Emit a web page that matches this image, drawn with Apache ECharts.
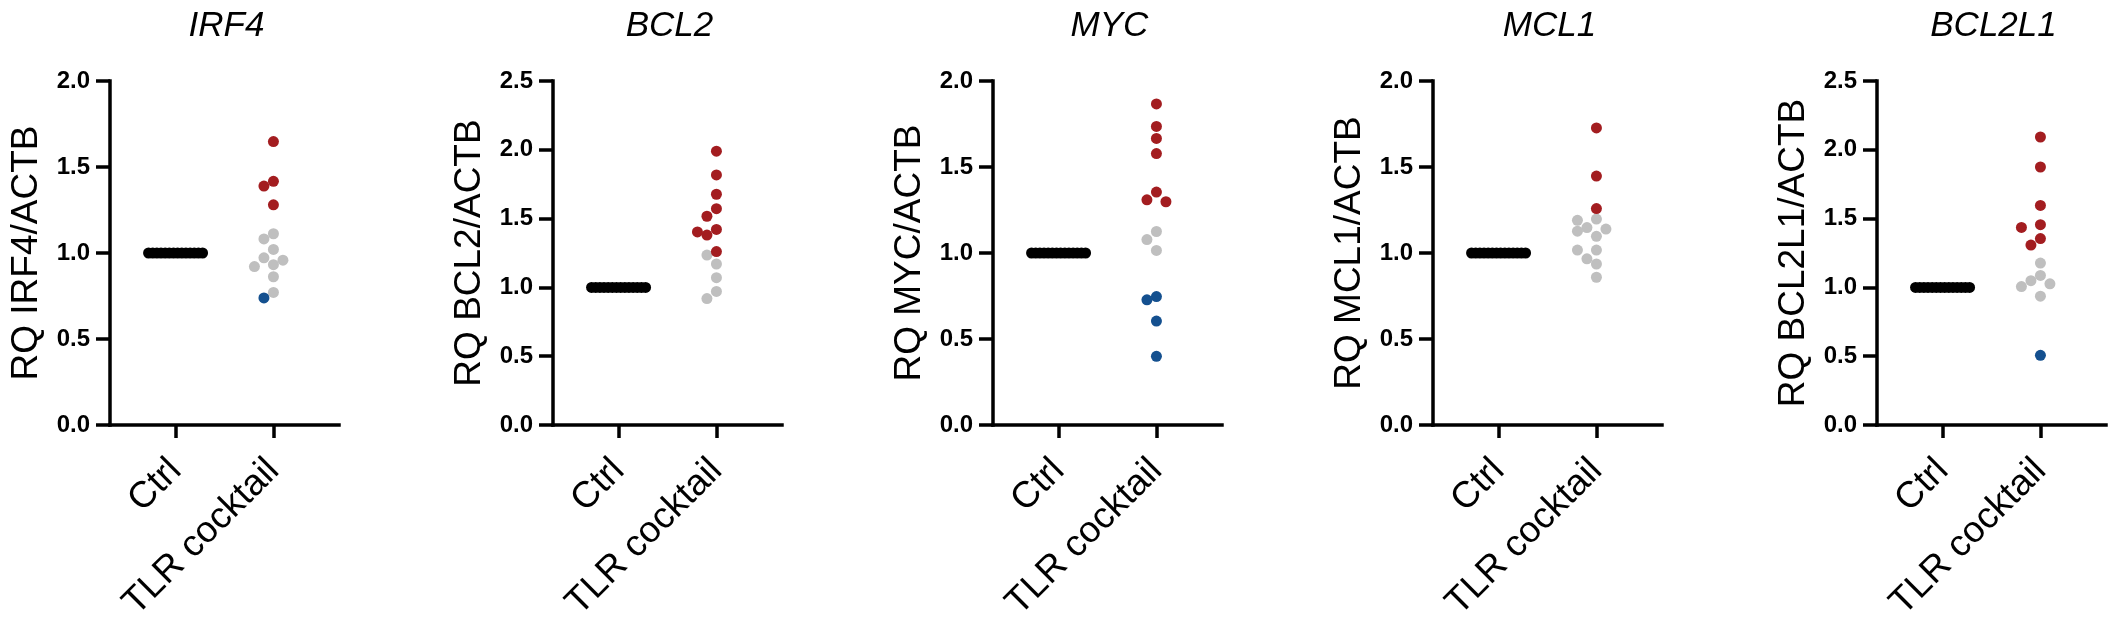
<!DOCTYPE html>
<html>
<head>
<meta charset="utf-8">
<title>RQ expression: Ctrl vs TLR cocktail</title>
<script src="https://cdn.jsdelivr.net/npm/echarts@6.0.0/dist/echarts.min.js"></script>
<style>
  html, body { margin: 0; padding: 0; background: #fff; }
  #chart { width: 2116px; height: 629px; }
</style>
</head>
<body>
<div id="chart"></div>
<script>
// -- Values (RQ relative to ACTB) --
const genes = ['IRF4', 'BCL2', 'MYC', 'MCL1', 'BCL2L1'];
const groups = ['Ctrl', 'TLR cocktail'];
const yMax = [2.0, 2.5, 2.0, 2.0, 2.5];

// Ctrl samples are the calibrator, all at 1.0
const ctrlRQ = [1, 1, 1, 1, 1, 1, 1, 1, 1, 1, 1, 1, 1, 1];

// TLR cocktail samples, split by colour: up (red), unchanged (grey), down (blue)
const irf4Up = [1.648, 1.417, 1.389, 1.28];
const irf4Same = [1.112, 1.082, 1.021, 0.972, 0.958, 0.932, 0.921, 0.862, 0.771];
const irf4Down = [0.739];

const bcl2Up = [1.99, 1.817, 1.677, 1.572, 1.517, 1.421, 1.403, 1.38, 1.26];
const bcl2Same = [1.235, 1.17, 1.071, 0.971, 0.919];
const bcl2Down = [];

const mycUp = [1.867, 1.736, 1.666, 1.578, 1.354, 1.309, 1.298];
const mycSame = [1.125, 1.078, 1.015];
const mycDown = [0.747, 0.728, 0.604, 0.399];

const mcl1Up = [1.727, 1.447, 1.258];
const mcl1Same = [1.197, 1.19, 1.148, 1.139, 1.127, 1.097, 1.017, 1.017, 0.966, 0.936, 0.859];
const mcl1Down = [];

const bcl2l1Up = [2.093, 1.875, 1.596, 1.456, 1.436, 1.355, 1.308];
const bcl2l1Same = [1.177, 1.087, 1.049, 1.026, 1.006, 0.936];
const bcl2l1Down = [0.506];

const tlrUp = [irf4Up, bcl2Up, mycUp, mcl1Up, bcl2l1Up];
const tlrSame = [irf4Same, bcl2Same, mycSame, mcl1Same, bcl2l1Same];
const tlrDown = [irf4Down, bcl2Down, mycDown, mcl1Down, bcl2l1Down];

// -- Layout --
const FONT = '"Liberation Sans", Arial, sans-serif';
const PANEL_LEFT = [110, 553, 993, 1433, 1877];
const GRID_W = 229;
const GRID_TOP = 81;
const GRID_H = 344;
const X_MIN = 0.33;
const X_MAX = 2.67;
const DOT = 11;        // symbol diameter, px
const GAP = 10;        // centre distance two dots may come to
const STEP = 9.5;      // horizontal swarm step, px
const MAX_HALF = 27;   // widest half-column before points get squeezed

const COLORS = {
  ctrl: '#000000',
  up: '#a31d20',
  same: '#bfbfbf',
  down: '#14508f'
};

// -- Simple beeswarm: place each point as close to the centre as it can go --
function swarm(values, center, yScale) {
  const xScale = GRID_W / (X_MAX - X_MIN);
  const order = values.map((v, i) => i).sort((a, b) => values[b] - values[a]);
  const placed = [];
  const off = new Array(values.length);
  order.forEach(i => {
    const y = values[i] * yScale;
    for (let k = 0; off[i] === undefined; k++) {
      const cands = k === 0 ? [0] : [-k, k];
      for (const c of cands) {
        const x = c * STEP;
        if (placed.every(p => Math.hypot(p.x - x, p.y - y) >= GAP - 0.01)) {
          placed.push({ x, y });
          off[i] = x;
          break;
        }
      }
    }
  });
  if (!off.length) return [];
  const lo = Math.min(...off);
  const hi = Math.max(...off);
  if (hi - lo > 2 * MAX_HALF) {
    // squeeze very wide rows (the tied Ctrl values) into the column width
    const mid = (lo + hi) / 2;
    const s = (2 * MAX_HALF) / (hi - lo);
    for (let i = 0; i < off.length; i++) off[i] = (off[i] - mid) * s;
  }
  return off.map(px => center + px / xScale);
}

const grid = [], xAxis = [], yAxis = [], series = [], title = [];

genes.forEach((gene, i) => {
  const yScale = GRID_H / yMax[i];

  grid.push({
    left: PANEL_LEFT[i], top: GRID_TOP, width: GRID_W, height: GRID_H,
    containLabel: false, outerBoundsMode: 'none'
  });

  title.push({
    text: gene,
    left: PANEL_LEFT[i] + GRID_W / 2 + 2,
    top: 9,
    padding: 0,
    textAlign: 'center',
    textStyle: { fontFamily: FONT, fontSize: 35, fontStyle: 'italic', fontWeight: 'normal', color: '#000' }
  });

  xAxis.push({
    gridIndex: i, type: 'value', min: X_MIN, max: X_MAX,
    splitLine: { show: false },
    axisLine: { show: true, lineStyle: { color: '#000', width: 3.5, cap: 'square' } },
    axisTick: { show: true, customValues: [1, 2], length: 13, lineStyle: { color: '#000', width: 3.5 } },
    axisLabel: {
      show: true, customValues: [1, 2], formatter: v => groups[Math.round(v) - 1],
      rotate: 45, margin: 40, padding: [28, 0, 0, 0],
      fontFamily: FONT, fontSize: 37, color: '#000'
    }
  });

  yAxis.push({
    gridIndex: i, type: 'value', min: 0, max: yMax[i], interval: 0.5,
    splitLine: { show: false },
    axisLine: { show: true, lineStyle: { color: '#000', width: 3.5, cap: 'square' } },
    axisTick: { show: true, length: 14, lineStyle: { color: '#000', width: 3.5 } },
    axisLabel: {
      formatter: v => v.toFixed(1), margin: 20,
      fontFamily: FONT, fontSize: 24, fontWeight: 'bold', color: '#000'
    },
    name: 'RQ ' + gene + '/ACTB',
    nameLocation: 'middle', nameRotate: 90, nameGap: 65,
    nameTextStyle: { fontFamily: FONT, fontSize: 37, color: '#000' }
  });

  const ctrlX = swarm(ctrlRQ, 1, yScale);
  series.push({
    type: 'scatter', xAxisIndex: i, yAxisIndex: i, symbolSize: DOT,
    itemStyle: { color: COLORS.ctrl, opacity: 1 },
    data: ctrlRQ.map((v, j) => [ctrlX[j], v])
  });

  // swarm all TLR points together, then colour them by group
  const tlrAll = tlrUp[i].concat(tlrSame[i], tlrDown[i]);
  const tlrKind = tlrUp[i].map(() => 'up')
    .concat(tlrSame[i].map(() => 'same'), tlrDown[i].map(() => 'down'));
  const tlrX = swarm(tlrAll, 2, yScale);
  ['same', 'up', 'down'].forEach(kind => {
    series.push({
      type: 'scatter', xAxisIndex: i, yAxisIndex: i, symbolSize: DOT,
      itemStyle: { color: COLORS[kind], opacity: 1 },
      data: tlrAll.map((v, j) => [tlrX[j], v]).filter((p, j) => tlrKind[j] === kind)
    });
  });
});

const chart = echarts.init(document.getElementById('chart'), null, { renderer: 'canvas' });
chart.setOption({
  backgroundColor: '#fff',
  animation: false,
  title, grid, xAxis, yAxis, series,
  tooltip: { show: false }
});
</script>
</body>
</html>
